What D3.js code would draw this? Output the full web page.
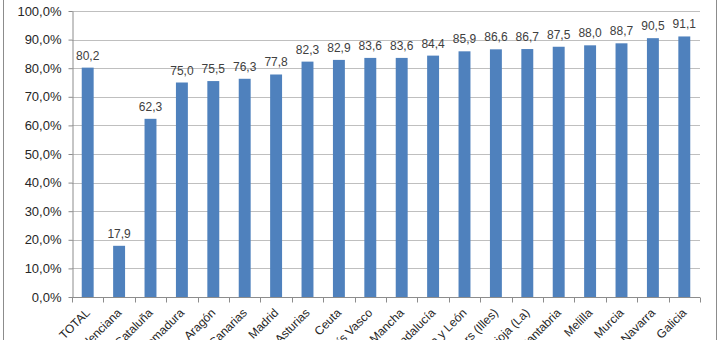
<!DOCTYPE html>
<html>
<head>
<meta charset="utf-8">
<script src="https://cdn.jsdelivr.net/npm/d3@7"></script>
<style>
  html, body { margin: 0; padding: 0; background: #fff; }
  svg { display: block; }
</style>
</head>
<body>
<svg id="chart" width="720" height="340"></svg>
<script>
const categories = ["TOTAL", "Comunitat Valenciana", "Cataluña", "Extremadura", "Aragón", "Canarias",
  "Madrid", "Asturias", "Ceuta", "País Vasco", "Castilla-La Mancha", "Andalucía", "Castilla y León",
  "Balears (Illes)", "Rioja (La)", "Cantabria", "Melilla", "Murcia", "Navarra", "Galicia"];
const values = [80.2, 17.9, 62.3, 75.0, 75.5, 76.3, 77.8, 82.3, 82.9, 83.6, 83.6, 84.4, 85.9,
  86.6, 86.7, 87.5, 88.0, 88.7, 90.5, 91.1];
const yTicks = [0, 10, 20, 30, 40, 50, 60, 70, 80, 90, 100];

const svg = d3.select("#chart");
const fmt = v => v.toFixed(1).replace(".", ",");

const plot = { left: 72, right: 700, top: 11, bottom: 297 };

// Outer frame (left and right edges)
svg.append("line").attr("x1", 3.5).attr("x2", 3.5).attr("y1", 0).attr("y2", 340)
  .attr("stroke", "#8c8c8c").attr("stroke-width", 1);
svg.append("line").attr("x1", 716.5).attr("x2", 716.5).attr("y1", 0).attr("y2", 340)
  .attr("stroke", "#8c8c8c").attr("stroke-width", 1);

const x = d3.scaleBand().domain(categories).range([plot.left, plot.right]).padding(0);
const y = d3.scaleLinear().domain([0, 100]).range([plot.bottom, plot.top]);

// Gridlines
svg.append("g").selectAll("line").data(yTicks.filter(t => t > 0)).join("line")
  .attr("x1", plot.left).attr("x2", plot.right)
  .attr("y1", d => Math.round(y(d)) + 0.5).attr("y2", d => Math.round(y(d)) + 0.5)
  .attr("stroke", "#bfbfbf").attr("stroke-width", 1);

// Y axis
const yAxis = d3.axisLeft(y).tickValues(yTicks).tickSize(4).tickSizeOuter(0)
  .tickFormat(d => fmt(d) + "%");
const gy = svg.append("g").attr("transform", `translate(${plot.left + 0.5},0)`).call(yAxis);
gy.select(".domain").attr("stroke", "#8c8c8c");
gy.selectAll(".tick line").attr("stroke", "#8c8c8c");
gy.selectAll(".tick text").attr("x", -11)
  .attr("font-family", "Liberation Sans, Arial, sans-serif").attr("font-size", 13).attr("fill", "#262626");

// Bars
const barW = x.step() * 0.38;
svg.append("g").selectAll("rect").data(values).join("rect")
  .attr("x", (d, i) => x(categories[i]) + (x.step() - barW) / 2)
  .attr("width", barW)
  .attr("y", d => y(d))
  .attr("height", d => y(0) - y(d))
  .attr("fill", "#4f81bd");

// Value labels
svg.append("g").selectAll("text").data(values).join("text")
  .attr("x", (d, i) => x(categories[i]) + x.step() / 2)
  .attr("y", d => y(d) - 8)
  .attr("text-anchor", "middle")
  .attr("font-family", "Liberation Sans, Arial, sans-serif").attr("font-size", 12).attr("fill", "#404040")
  .text(d => fmt(d));

// X axis with ticks at category boundaries
const gx = svg.append("g").attr("transform", `translate(0,${plot.bottom + 0.5})`);
gx.append("line").attr("x1", plot.left).attr("x2", plot.right).attr("stroke", "#8c8c8c");
const bounds = categories.map(c => x(c)).concat([plot.right]);
gx.selectAll("line.tk").data(bounds).join("line").attr("class", "tk")
  .attr("x1", d => Math.round(d) + 0.5).attr("x2", d => Math.round(d) + 0.5)
  .attr("y1", 0).attr("y2", 5).attr("stroke", "#8c8c8c");
gx.selectAll("text.cat").data(categories).join("text").attr("class", "cat")
  .attr("transform", c => `translate(${x(c) + x.step() / 2 + 3},${16}) rotate(-45)`)
  .attr("text-anchor", "end")
  .attr("font-family", "Liberation Sans, Arial, sans-serif").attr("font-size", 12).attr("fill", "#262626")
  .text(c => c);
</script>
</body>
</html>
